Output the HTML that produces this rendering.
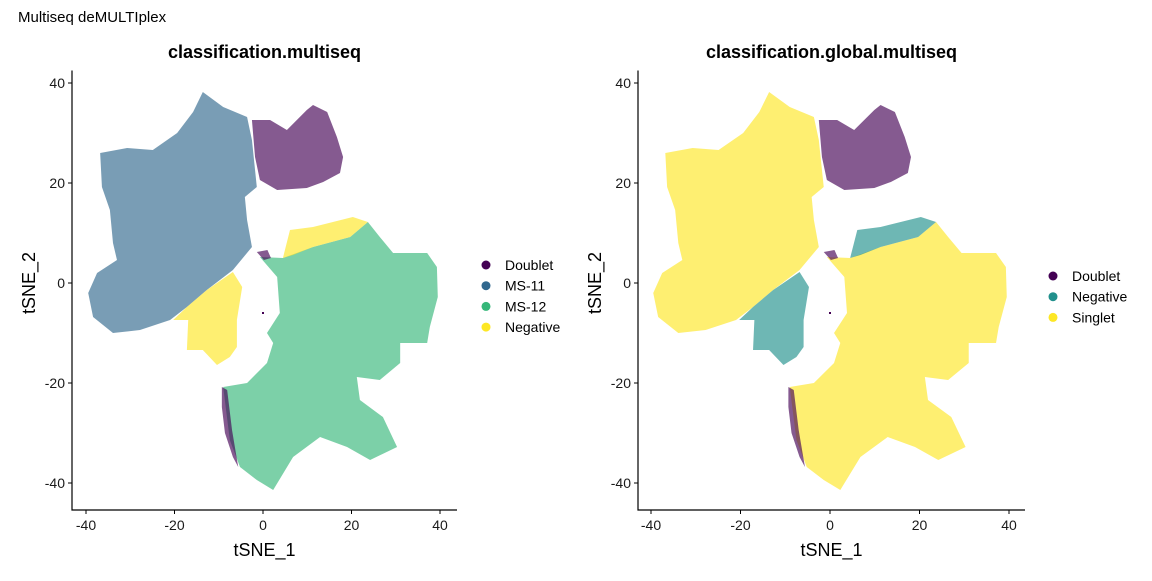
<!DOCTYPE html>
<html><head><meta charset="utf-8"><style>
body{margin:0;background:#fff}
svg text{font-family:"Liberation Sans",sans-serif}
</style></head><body>
<svg id="c" width="1152" height="576" xmlns="http://www.w3.org/2000/svg">
<text x="18" y="22" font-size="15" fill="#000">Multiseq deMULTIplex</text>
</svg>
<script>
const xTicks=[-40,-20,0,20,40];
const yTicks=[-40,-20,0,20,40];
const msClusters=["Doublet","MS-11","MS-12","Negative"];
const globalClusters=["Doublet","Negative","Singlet"];
const blueRegion=[[-13.6,38.2],[-9.0,35.2],[-3.6,33.2],[-2.5,28.6],[-1.4,19.2],[-4.1,17.2],[-3.6,12.6],[-2.5,7.2],[-6.8,2.6],[-12.7,-1.4],[-17.2,-4.8],[-21.0,-7.4],[-27.8,-9.4],[-33.9,-10.0],[-38.4,-6.8],[-39.5,-2.0],[-37.5,2.0],[-33.0,4.6],[-33.9,8.0],[-34.6,14.6],[-36.4,19.2],[-36.8,26.0],[-30.7,27.0],[-24.9,26.6],[-19.4,30.0],[-15.8,34.2]];
const doubletTop=[[-2.5,32.6],[1.6,32.6],[5.4,30.6],[9.9,34.6],[11.3,35.6],[14.5,34.2],[16.7,29.2],[18.1,25.2],[17.4,22.0],[13.6,20.2],[9.9,19.0],[3.2,18.6],[-0.7,20.6],[-1.8,25.2]];
const negTop=[[6.1,10.6],[11.3,11.2],[20.3,13.2],[23.7,12.2],[19.7,9.2],[11.3,7.2],[6.8,5.6],[4.5,5.0]];
const greenRegion=[[-0.7,5.2],[4.5,5.0],[11.3,7.2],[19.7,9.2],[23.7,12.2],[26.4,9.2],[29.4,6.0],[37.1,6.0],[39.3,3.2],[39.5,-2.8],[37.7,-8.8],[37.1,-12.0],[31.0,-12.0],[31.0,-16.0],[26.4,-19.4],[21.2,-18.8],[21.9,-23.4],[27.1,-26.8],[30.3,-32.8],[24.2,-35.4],[19.0,-32.8],[12.9,-30.8],[6.8,-34.8],[2.3,-41.4],[-1.4,-39.4],[-5.2,-36.8],[-7.5,-31.4],[-9.0,-20.8],[-3.6,-20.0],[0.9,-16.0],[2.3,-12.0],[0.9,-10.0],[3.8,-6.0],[3.2,1.2]];
const negLeft=[[-12.7,-1.4],[-6.8,2.2],[-4.7,-0.8],[-5.9,-7.4],[-5.9,-12.8],[-7.5,-14.8],[-10.4,-16.4],[-13.6,-13.4],[-17.2,-13.4],[-16.9,-7.4],[-20.3,-7.4],[-17.2,-4.8]];
const doubletSliver=[[-9.3,-20.8],[-8.1,-21.4],[-7.0,-29.4],[-5.6,-36.8],[-6.8,-34.8],[-8.6,-30.0],[-9.3,-24.8]];
const doubletSmall=[[-1.4,6.2],[1.0,6.6],[1.8,5.0],[0.2,4.6]];

const NS="http://www.w3.org/2000/svg";
const svg=document.getElementById('c');
function mk(tag,attrs,parent){const e=document.createElementNS(NS,tag);for(const k in attrs)e.setAttribute(k,attrs[k]);(parent||svg).appendChild(e);return e;}

function panel(p){
  const g=mk('g',{});
  
  
  const sx=v=>p.x0+v*p.kx, sy=v=>283-v*5;
  const poly=(pts,col,name)=>{const e=mk('polygon',{points:pts.map(q=>sx(q[0])+','+sy(q[1])).join(' '),fill:col,'fill-opacity':0.65},g);
    
    };
  p.regions.forEach(r=>poly(r[0],r[1],r[2]));
  const dot=mk('rect',{x:sx(0)-1,y:sy(-6)-1,width:2,height:2,fill:'#440154'},g);
  
  
  const ax=mk('path',{d:`M${p.axL},${sy(42.5)} V510 H${p.axR}`,stroke:'#000','stroke-width':1.2,fill:'none'},g);
  
  
  xTicks.forEach(t=>{mk('line',{x1:sx(t),x2:sx(t),y1:510,y2:514,stroke:'#000'},g);
    const tx=mk('text',{x:sx(t),y:530,'font-size':14,'text-anchor':'middle',fill:'#1a1a1a'},g);tx.textContent=t;
    
    });
  yTicks.forEach(t=>{mk('line',{x1:p.axL-4,x2:p.axL,y1:sy(t),y2:sy(t),stroke:'#000'},g);
    const tx=mk('text',{x:p.axL-7,y:sy(t)+5,'font-size':14,'text-anchor':'end',fill:'#1a1a1a'},g);tx.textContent=t;
    
    });
  const xt=mk('text',{x:(p.axL+p.axR)/2,y:556,'font-size':18,'text-anchor':'middle'},g);xt.textContent='tSNE_1';
  
  
  const yt=mk('text',{x:0,y:0,'font-size':18,'text-anchor':'middle',transform:`translate(${p.axL-37},${283}) rotate(-90)`},g);yt.textContent='tSNE_2';
  
  
  const ti=mk('text',{x:(p.axL+p.axR)/2,y:58,'font-size':18,'font-weight':'bold','text-anchor':'middle'},g);ti.textContent=p.title;
  
  
  p.legend.forEach((l,i)=>{const y=p.ly+i*20.7;
    const c=mk('circle',{cx:p.lx,cy:y,r:4.5,fill:l[1]},g);
    
    
    const t=mk('text',{x:p.lx+19,y:y+5,'font-size':14},g);t.textContent=l[0];
    
    });
}
const D='#440154',B='#31688E',G='#35B779',Y='#FDE725',T='#21908C';
panel({name:'panel-multiseq',x0:263,kx:4.425,axL:72,axR:457,title:'classification.multiseq',
  regions:[[blueRegion,B,'ms11-cluster'],[greenRegion,G,'ms12-cluster'],[doubletTop,D,'doublet-cluster'],[negTop,Y,'negative-top'],[negLeft,Y,'negative-left'],[doubletSliver,D,'doublet-sliver'],[doubletSmall,D,'doublet-small']],
  legend:[[msClusters[0],D],[msClusters[1],B],[msClusters[2],G],[msClusters[3],Y]],lx:486,ly:265});
panel({name:'panel-global',x0:830,kx:4.475,axL:638,axR:1025,title:'classification.global.multiseq',
  regions:[[blueRegion,Y,'singlet-left'],[greenRegion,Y,'singlet-right'],[doubletTop,D,'doublet-cluster'],[negTop,T,'negative-top'],[negLeft,T,'negative-left'],[doubletSliver,D,'doublet-sliver'],[doubletSmall,D,'doublet-small']],
  legend:[[globalClusters[0],D],[globalClusters[1],T],[globalClusters[2],Y]],lx:1053,ly:276});
</script>
</body></html>
